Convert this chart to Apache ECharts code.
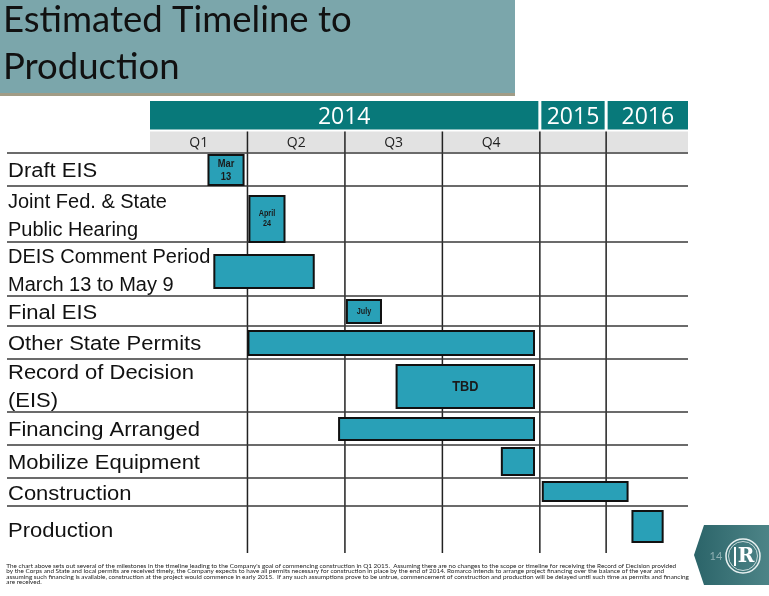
<!doctype html>
<html>
<head>
<meta charset="utf-8">
<title>Estimated Timeline to Production</title>
<script src="https://cdn.jsdelivr.net/npm/echarts@6/dist/echarts.min.js"></script>
<style>
    html, body { margin: 0; padding: 0; background: #fff; }
    #chart { width: 769px; height: 596px; }
</style>
</head>
<body>
<div id="chart"></div>
<script type="text/javascript">
    // rows of the timeline
    var tasks = ['Draft EIS', 'Joint Fed. & State\nPublic Hearing', 'DEIS Comment Period\nMarch 13 to May 9',
        'Final EIS', 'Other State Permits', 'Record of Decision\n(EIS)', 'Financing Arranged',
        'Mobilize Equipment', 'Construction', 'Production'];
    // start / end in quarter units (0 = start of Q1 2014)
    var taskStart = [0.60, 1.02, 0.66, 2.02, 1.01, 2.53, 1.94, 3.61, 4.03, 4.95];
    var taskEnd   = [0.96, 1.38, 1.68, 2.37, 3.94, 3.94, 3.94, 3.94, 4.90, 5.26];
    var taskNote  = ['Mar\n13', 'April\n24', '', 'July', '', 'TBD', '', '', '', ''];

    var years = ['2014', '2015', '2016'];
    var quarters = ['Q1', 'Q2', 'Q3', 'Q4', '', ''];
    // column edges on the x axis: four quarters of 2014, then 2015, then 2016
    var colEdges = [0, 1, 2, 3, 4, 4.68, 5.52];
    var yearCols = [[0, 4], [4, 5], [5, 6]];

    // layout, px
    var rowH = [33, 56, 54, 30, 33, 53, 33, 33, 28, 46];
    var barPad = [[2, 1], [10, 0], [13, 8], [4, 3], [5, 4], [6, 4], [6, 5], [3, 3], [4, 5], [5, 10]];
    var labelStretch = [1.1, 1.0, 1.0, 1.1, 1.1, 1.1, 1.1, 1.1, 1.1, 1.1];
    var HEAD = 52;
    var FILL = '#29a0b7';

    function rowTop(i) {
        var y = HEAD;
        for (var k = 0; k < i; k++) y += rowH[k];
        return y;
    }

    var footnote = 'The chart above sets out several of the milestones in the timeline leading to the Company\'s goal of commencing construction in Q1 2015.  Assuming there are no changes to the scope or timeline for receiving the Record of Decision provided\n' +
        'by the Corps and State and local permits are received timely, the Company expects to have all permits necessary for construction in place by the end of 2014. Romarco intends to arrange project financing over the balance of the year and\n' +
        'assuming such financing is available, construction at the project would commence in early 2015.  If any such assumptions prove to be untrue, commencement of construction and production will be delayed until such time as permits and financing\n' +
        'are received.';

    var myChart = echarts.init(document.getElementById('chart'));

    var option = {
        animation: false,
        grid: { left: 150, top: 101, width: 538, height: 452 },
        xAxis: { type: 'value', min: 0, max: 5.52, show: false },
        yAxis: { type: 'value', min: 0, max: 452, inverse: true, show: false },
        graphic: [
            { type: 'rect', shape: { x: 0, y: 0, width: 515, height: 93 }, style: { fill: '#7ba6ab' } },
            { type: 'rect', shape: { x: 0, y: 93, width: 515, height: 3 }, style: { fill: '#a19c86' } },
            { type: 'text', x: 3, y: 20.5, style: { text: 'Estimated Timeline to', fontFamily: 'Lato', fontSize: 36.5, fill: '#111', verticalAlign: 'middle' } },
            { type: 'text', x: 3, y: 67.5, style: { text: 'Production', fontFamily: 'Lato', fontSize: 36.5, fill: '#111', verticalAlign: 'middle' } },
            { type: 'text', x: 7, y: 563, scaleX: 1.1, originX: 7, style: { text: footnote, fontFamily: 'Lato', fontSize: 5.8, lineHeight: 5.6, fill: '#222' } },
            // logo
            { type: 'polygon', shape: { points: [[704, 525], [769, 525], [769, 585], [704, 585], [694, 555]] },
              style: { fill: new echarts.graphic.LinearGradient(0, 0, 1, 0, [{ offset: 0, color: '#2b6469' }, { offset: 1, color: '#4d8487' }]) } },
            { type: 'text', x: 716, y: 556, style: { text: '14', fontFamily: 'Lato', fontSize: 11, fill: '#8fb0b3', align: 'center', verticalAlign: 'middle' } },
            { type: 'circle', shape: { cx: 743, cy: 556, r: 17 }, style: { fill: 'none', stroke: '#e8f0f0', lineWidth: 1.5 } },
            { type: 'circle', shape: { cx: 743, cy: 556, r: 14.5 }, style: { fill: 'none', stroke: '#e8f0f0', lineWidth: 0.8 } },
            { type: 'text', x: 746, y: 557, style: { text: 'R', fontFamily: 'DejaVu Serif', fontWeight: 'bold', fontSize: 20, fill: '#fff', align: 'center', verticalAlign: 'middle' } },
            { type: 'rect', shape: { x: 734, y: 547, width: 2, height: 19 }, style: { fill: '#fff' } }
        ],
        series: [
            {
                // year band
                type: 'custom',
                data: years.map(function (y, i) { return [i]; }),
                renderItem: function (params, api) {
                    var i = params.dataIndex, c = yearCols[i];
                    var p0 = api.coord([colEdges[c[0]], 0]);
                    var p1 = api.coord([colEdges[c[1]], 28.5]);
                    var x0 = p0[0] + (i > 0 ? 1.5 : 0);
                    var x1 = p1[0] - (i < years.length - 1 ? 1.5 : 0);
                    return {
                        type: 'group',
                        children: [
                            { type: 'rect', shape: { x: x0, y: p0[1], width: x1 - x0, height: p1[1] - p0[1] }, style: { fill: '#08797a' } },
                            { type: 'text', style: { text: years[i], x: (x0 + x1) / 2, y: (p0[1] + p1[1]) / 2 + 2, align: 'center', verticalAlign: 'middle', fill: '#fff', fontFamily: 'Open Sans', fontSize: 23 } }
                        ]
                    };
                }
            },
            {
                // quarter band
                type: 'custom',
                data: quarters.map(function (q, i) { return [i]; }),
                renderItem: function (params, api) {
                    var i = params.dataIndex;
                    var p0 = api.coord([colEdges[i], 30.5]);
                    var p1 = api.coord([colEdges[i + 1], 51]);
                    return {
                        type: 'group',
                        children: [
                            { type: 'rect', shape: { x: p0[0], y: p0[1], width: p1[0] - p0[0], height: p1[1] - p0[1] }, style: { fill: '#e2e2e2' } },
                            { type: 'text', style: { text: quarters[i], x: (p0[0] + p1[0]) / 2, y: (p0[1] + p1[1]) / 2 + 1, align: 'center', verticalAlign: 'middle', fill: '#222', fontFamily: 'Open Sans', fontSize: 14 } }
                        ]
                    };
                }
            },
            {
                // column separators
                type: 'custom',
                data: [1, 2, 3, 4, 5].map(function (k) { return [colEdges[k]]; }),
                renderItem: function (params, api) {
                    var a = api.coord([api.value(0), 30.5]);
                    var b = api.coord([api.value(0), 452]);
                    return { type: 'line', shape: { x1: a[0], y1: a[1], x2: b[0], y2: b[1] }, style: { stroke: '#222', lineWidth: 1.5 } };
                }
            },
            {
                // row lines and row labels
                type: 'custom',
                data: tasks.map(function (t, i) { return [i]; }),
                renderItem: function (params, api) {
                    var i = params.dataIndex;
                    var top = api.coord([0, rowTop(i)]);
                    var right = api.coord([colEdges[colEdges.length - 1], rowTop(i)]);
                    var mid = api.coord([0, rowTop(i) + rowH[i] / 2]);
                    return {
                        type: 'group',
                        children: [
                            { type: 'line', shape: { x1: 7, y1: top[1], x2: right[0], y2: top[1] }, style: { stroke: '#3a3a3a', lineWidth: 1.5 } },
                            { type: 'text', x: 8, y: mid[1] + 2, scaleX: labelStretch[i],
                              style: { text: tasks[i], x: 0, y: 0, verticalAlign: 'middle', fill: '#111', fontFamily: 'Liberation Sans', fontSize: 20, lineHeight: 28 } }
                        ]
                    };
                }
            },
            {
                // task bars
                type: 'custom',
                data: tasks.map(function (t, i) { return [taskStart[i], taskEnd[i], i]; }),
                renderItem: function (params, api) {
                    var i = api.value(2);
                    var a = api.coord([api.value(0), rowTop(i) + barPad[i][0]]);
                    var b = api.coord([api.value(1), rowTop(i) + rowH[i] - barPad[i][1]]);
                    var big = taskNote[i] === 'TBD';
                    var small = taskNote[i] === 'April\n24' || taskNote[i] === 'July';
                    return {
                        type: 'group',
                        children: [
                            { type: 'rect', shape: { x: a[0], y: a[1], width: b[0] - a[0], height: b[1] - a[1] }, style: { fill: FILL, stroke: '#111', lineWidth: 2 } },
                            { type: 'text', x: (a[0] + b[0]) / 2, y: (a[1] + b[1]) / 2, scaleX: 0.85,
                              style: { text: taskNote[i], x: 0, y: 0, align: 'center', verticalAlign: 'middle',
                                fill: '#1a1a1a', fontWeight: 'bold', fontFamily: 'Liberation Sans',
                                fontSize: big ? 15 : (small ? 8.5 : 11), lineHeight: big ? 15 : (small ? 10 : 13) } }
                        ]
                    };
                }
            }
        ]
    };

    myChart.setOption(option);
</script>
</body>
</html>
